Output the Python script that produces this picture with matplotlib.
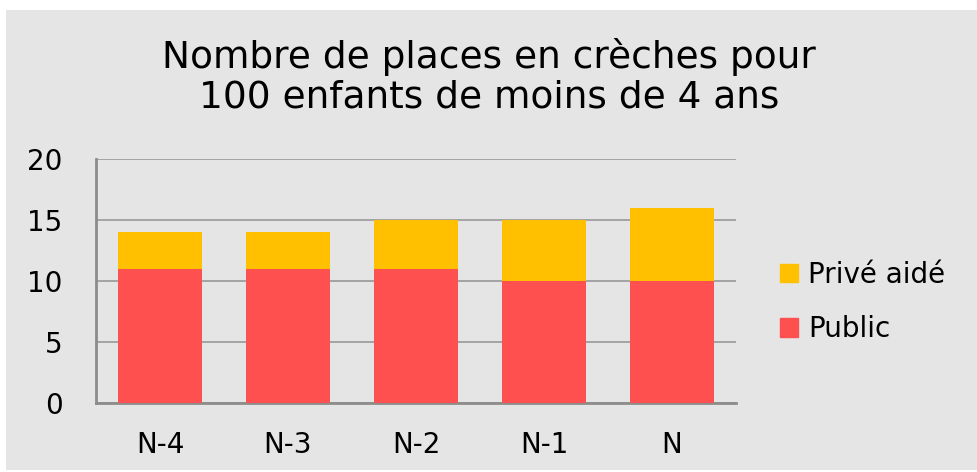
import matplotlib
matplotlib.use("Agg")
import matplotlib.pyplot as plt
from matplotlib.patches import Rectangle, Patch

categories = ["N-4", "N-3", "N-2", "N-1", "N"]
public = [11, 11, 11, 10, 10]
prive_aide = [3, 3, 4, 5, 6]
yticks = [0, 5, 10, 15, 20]

plt.rcParams['font.family'] = ['DejaVu Sans']

W, H = 978, 472
fig = plt.figure(figsize=(W / 100, H / 100), dpi=100)
fig.patch.set_facecolor("white")
fig.patches.append(Rectangle((6 / W, 2 / H), 1 - 6 / W, 460 / H,
                             transform=fig.transFigure, facecolor="#e5e5e5",
                             edgecolor="none", zorder=-10))

ax = fig.add_axes([96 / W, 1 - 403 / H, 640 / W, 244 / H])
ax.set_facecolor("none")
x = range(len(categories))
ax.bar(x, public, width=0.65, color="#FF5050", label="Public", zorder=3)
ax.bar(x, prive_aide, width=0.65, bottom=public, color="#FFC000",
       label="Privé aidé", zorder=3)

ax.set_xlim(-0.5, len(categories) - 0.5)
ax.set_ylim(0, 20)
ax.set_yticks(yticks)
ax.set_xticks(list(x))
ax.set_xticklabels(categories)
ax.tick_params(axis="both", length=0, labelsize=20, colors="black")
ax.tick_params(axis="y", pad=24)
ax.tick_params(axis="x", pad=20)
ax.grid(axis="y", color="#999999", linewidth=1.2, zorder=0)
for s in ["top", "right"]:
    ax.spines[s].set_visible(False)
for s in ["left", "bottom"]:
    ax.spines[s].set_color("#8c8c8c")
    ax.spines[s].set_linewidth(2)

fig.text(0.5, 1 - 77 / H, "Nombre de places en crèches pour\n100 enfants de moins de 4 ans",
         ha="center", va="center", fontsize=27, linespacing=1.12)

handles = [Patch(color="#FFC000", label="Privé aidé"),
           Patch(color="#FF5050", label="Public")]
fig.legend(handles=handles, loc="center left", bbox_to_anchor=(755 / W, 1 - 302 / H),
           frameon=False, fontsize=20, handlelength=0.65, handleheight=0.65,
           handletextpad=0.35, labelspacing=0.95)

fig.savefig("out.png", dpi=100, facecolor=fig.get_facecolor())
